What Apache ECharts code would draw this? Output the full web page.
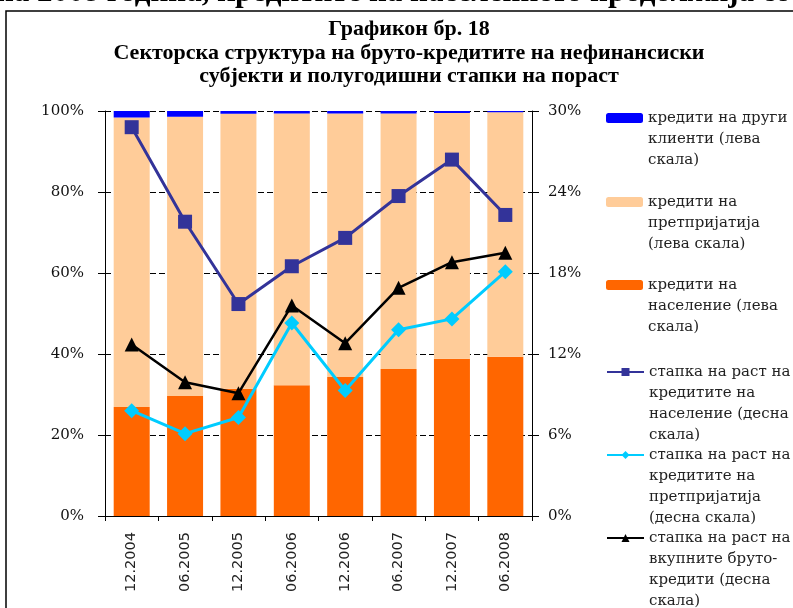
<!DOCTYPE html>
<html>
<head>
<meta charset="utf-8">
<script src="https://cdn.jsdelivr.net/npm/echarts@6/dist/echarts.min.js"></script>
<style>
  html, body { margin: 0; padding: 0; background: #fff; }
  #chart { width: 793px; height: 608px; }
</style>
</head>
<body>
<div id="chart"></div>
<script>
// periods
const periods = ["12.2004", "06.2005", "12.2005", "06.2006", "12.2006", "06.2007", "12.2007", "06.2008"];

// structure, % of total (left scale)
const households = [26.9, 29.6, 31.4, 32.3, 34.3, 36.3, 38.8, 39.3];
const enterprises = [71.5, 69.0, 67.9, 67.1, 65.1, 63.1, 60.7, 60.4];
const otherClients = [1.6, 1.4, 0.7, 0.6, 0.6, 0.6, 0.5, 0.3];

// half-year growth rates, % (right scale)
const householdsGrowth = [28.8, 21.8, 15.7, 18.5, 20.6, 23.7, 26.4, 22.3];
const enterprisesGrowth = [7.8, 6.1, 7.3, 14.3, 9.3, 13.8, 14.6, 18.1];
const totalGrowth = [12.7, 9.9, 9.1, 15.6, 12.8, 16.9, 18.8, 19.5];

const leftTicks = [0, 20, 40, 60, 80, 100];
const rightTicks = [0, 6, 12, 18, 24, 30];

const names = [
  "кредити на други\nклиенти (лева\nскала)",
  "кредити на\nпретпријатија\n(лева скала)",
  "кредити на\nнаселение (лева\nскала)",
  "стапка на раст на\nкредитите на\nнаселение (десна\nскала)",
  "стапка на раст на\nкредитите на\nпретпријатија\n(десна скала)",
  "стапка на раст на\nвкупните бруто-\nкредити (десна\nскала)"
];

const serif = "'Liberation Serif', 'Times New Roman', serif";
const wideSerif = "'DejaVu Serif', serif";
const LH = 21;

// one legend block per item, icon lined up with the first text line
const legendCenters = [118, 202, 285, 372, 455, 538];
const legends = names.map((n, i) => {
  const extra = n.split("\n").length - 1;
  return {
    data: [n],
    orient: "vertical",
    left: 606,
    top: legendCenters[i] - extra * LH - LH / 2,
    padding: 0,
    itemWidth: 37,
    itemHeight: 10,
    itemGap: 0,
    selectedMode: false,
    formatter: (s) => "\n".repeat(extra) + s,
    textStyle: { fontFamily: wideSerif, fontSize: 15, lineHeight: LH, color: "#222" }
  };
});

const chart = echarts.init(document.getElementById("chart"));

chart.setOption({
  animation: false,
  backgroundColor: "#fff",
  title: {
    text: "Графикон бр. 18\nСекторска структура на бруто-кредитите на нефинансиски\nсубјекти и полугодишни стапки на пораст",
    left: 409,
    top: 18,
    textAlign: "center",
    padding: 0,
    textStyle: { fontFamily: serif, fontWeight: "bold", fontSize: 22, lineHeight: 23.5, color: "#000" }
  },
  graphic: [
    {
      type: "text",
      left: -4,
      top: -23,
      style: {
        text: "на 2008 година, кредитите на населението продолжија со",
        fontFamily: serif, fontWeight: "bold", fontSize: 31, fill: "#000"
      }
    },
    {
      type: "rect",
      shape: { x: 6, y: 11, width: 820, height: 640 },
      style: { fill: "none", stroke: "#000", lineWidth: 1.5 }
    }
  ],
  legend: legends,
  grid: { left: 105, right: 261, top: 111, bottom: 92 },
  xAxis: {
    type: "category",
    data: periods,
    axisLine: { lineStyle: { color: "#000", width: 1 } },
    axisTick: { show: true, length: 5, lineStyle: { color: "#000" } },
    axisLabel: {
      rotate: 90, margin: 16, fontFamily: "'DejaVu Sans', sans-serif", fontSize: 14.5, color: "#222"
    }
  },
  yAxis: [
    {
      type: "value",
      min: leftTicks[0],
      max: leftTicks[leftTicks.length - 1],
      interval: leftTicks[1] - leftTicks[0],
      axisLine: { show: true, lineStyle: { color: "#000" } },
      axisTick: { show: true, length: 7, lineStyle: { color: "#000" } },
      axisLabel: { formatter: "{value}%", margin: 21, fontFamily: wideSerif, fontSize: 15, color: "#111" },
      splitLine: { show: true, lineStyle: { color: "#000", type: [6, 3], width: 1 } }
    },
    {
      type: "value",
      min: rightTicks[0],
      max: rightTicks[rightTicks.length - 1],
      interval: rightTicks[1] - rightTicks[0],
      axisLine: { show: true, lineStyle: { color: "#000" } },
      axisTick: { show: true, length: 7, lineStyle: { color: "#000" } },
      axisLabel: { formatter: "{value}%", margin: 16, fontFamily: wideSerif, fontSize: 15, color: "#111" },
      splitLine: { show: false }
    }
  ],
  series: [
    {
      name: names[2], type: "bar", stack: "s", data: households, barWidth: 36,
      itemStyle: { color: "#FF6600" }
    },
    {
      name: names[1], type: "bar", stack: "s", data: enterprises, barWidth: 36,
      itemStyle: { color: "#FFCC99" }
    },
    {
      name: names[0], type: "bar", stack: "s", data: otherClients, barWidth: 36,
      itemStyle: { color: "#0000FF" }
    },
    {
      name: names[3], type: "line", yAxisIndex: 1, data: householdsGrowth,
      symbol: "rect", symbolSize: 14,
      lineStyle: { color: "#333399", width: 3 },
      itemStyle: { color: "#333399" }
    },
    {
      name: names[4], type: "line", yAxisIndex: 1, data: enterprisesGrowth,
      symbol: "diamond", symbolSize: 15,
      lineStyle: { color: "#00CCFF", width: 3 },
      itemStyle: { color: "#00CCFF" }
    },
    {
      name: names[5], type: "line", yAxisIndex: 1, data: totalGrowth,
      symbol: "triangle", symbolSize: 14,
      lineStyle: { color: "#000", width: 2.5 },
      itemStyle: { color: "#000" }
    }
  ]
});
</script>
</body>
</html>
